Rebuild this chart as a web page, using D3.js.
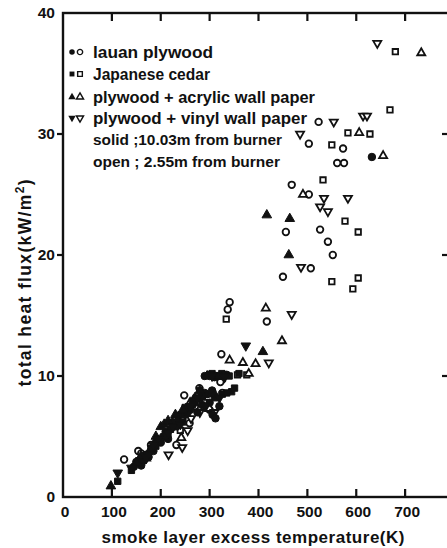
<!DOCTYPE html>
<html><head><meta charset="utf-8">
<script src="https://cdn.jsdelivr.net/npm/d3@7"></script>
<style>
html,body{margin:0;padding:0;background:#fff;}
svg{display:block;}
text{font-family:"Liberation Sans",Arial,sans-serif;font-weight:bold;fill:#111;}
</style></head>
<body>
<div id="chart"></div>
<script>
// ---- data: [excess temperature (K), total heat flux (kW/m2)] ----
const lauanSolid = [[632,28.1],[145,2.5],[165,3.0],[185,3.8],[190,4.5],[205,5.0],[220,5.6],[240,6.8],[265,7.6],[280,8.2],[295,8.5],[306,6.8],[312,6.5],[290,10.0],[315,10.0],[335,10.1],[300,7.8],[275,7.0],[228,6.0],[175,3.3],[150,2.9],[160,2.6],[170,3.5],[195,4.6],[210,5.4],[215,4.8],[235,6.3],[250,6.8],[260,7.2],[285,7.6],[290,8.6],[305,8.8],[320,7.5],[300,10.0],[310,9.9],[325,10.0]];
const lauanOpen = [[523,31.0],[503,29.2],[573,28.8],[561,27.6],[575,27.6],[468,25.8],[503,25.0],[526,22.1],[542,21.1],[552,20.0],[456,21.9],[507,18.9],[450,18.2],[341,16.1],[337,15.5],[417,14.5],[324,11.8],[326,9.7],[322,9.5],[279,9.0],[248,8.4],[326,8.6],[244,6.4],[259,6.1],[232,4.3],[154,3.8],[125,3.1],[200,4.5],[270,7.5],[285,8.0],[300,7.2],[160,3.6],[180,4.3]];
const cedarSolid = [[112,1.3],[155,3.0],[175,3.5],[190,4.2],[210,5.0],[230,5.8],[245,6.2],[270,7.8],[285,8.3],[326,8.5],[345,8.7],[351,9.0],[300,10.1],[325,10.2],[340,10.0],[360,10.2],[140,2.2],[255,7.0],[165,3.1],[180,4.0],[200,4.6],[220,5.6],[250,7.4],[265,7.9],[280,8.8],[310,8.2],[335,8.6],[305,10.2],[318,10.0]];
const cedarOpen = [[680,36.8],[669,32.0],[583,30.1],[628,30.0],[550,29.1],[532,26.2],[577,22.8],[604,21.9],[550,17.8],[604,18.1],[593,17.2],[334,14.7],[357,10.1],[376,10.1],[270,8.0],[290,7.8],[215,5.2],[240,5.5]];
const acrylicSolid = [[417,23.3],[464,23.0],[462,20.0],[409,12.0],[98,0.9],[200,5.8],[207,6.0],[224,6.2],[150,2.8],[180,4.0],[270,8.2],[295,10.0],[310,8.5],[190,5.0],[215,6.3],[230,6.8],[245,7.2],[280,8.8],[160,3.4]];
const acrylicOpen = [[733,36.7],[606,30.1],[655,28.2],[491,25.0],[415,15.6],[448,12.9],[341,11.3],[368,11.1],[394,11.0],[380,10.2],[242,4.9],[300,7.3],[170,3.2],[260,7.8]];
const vinylSolid = [[374,12.5],[112,2.0],[140,2.4],[170,3.2],[195,4.8],[215,5.3],[260,7.5],[305,10.0],[320,8.2],[185,4.3],[225,5.8],[240,6.0],[275,8.2],[290,7.5],[330,9.9]];
const vinylOpen = [[643,37.5],[614,31.5],[622,31.5],[554,31.0],[485,30.0],[534,24.7],[583,24.7],[526,24.0],[542,23.6],[487,19.0],[468,15.1],[421,11.1],[216,3.5],[244,4.1],[255,5.5],[262,6.5],[280,7.0],[310,7.0]];

const xTicks = [0,100,200,300,400,500,600,700];
const yTicks = [0,10,20,30,40];
const legendLabels = ["lauan  plywood","Japanese cedar","plywood + acrylic wall paper","plywood + vinyl  wall paper"];
const noteLabels = ["solid ;10.03m from burner","open ; 2.55m from burner"];
const xTitle = "smoke layer excess temperature(K)";

// ---- layout ----
const W = 447, H = 548;
const x = d3.scaleLinear().domain([0,800]).range([63,454]);
const y = d3.scaleLinear().domain([0,40]).range([497,13]);

const svg = d3.select("#chart").append("svg").attr("width",W).attr("height",H);
svg.append("rect").attr("width",W).attr("height",H).attr("fill","#fff");

const ink = "#111";

// frame
svg.append("rect").attr("x",x(0)).attr("y",y(40)).attr("width",x(800)-x(0)).attr("height",y(0)-y(40))
  .attr("fill","none").attr("stroke",ink).attr("stroke-width",2.4);

// ticks
const tk = svg.append("g").attr("stroke",ink).attr("stroke-width",2.2);
const inner = xTicks.slice(1);
tk.selectAll("line.b").data(inner).join("line").attr("class","b")
  .attr("x1",d=>x(d)).attr("x2",d=>x(d)).attr("y1",y(0)).attr("y2",y(0)-8);
tk.selectAll("line.t").data(inner).join("line").attr("class","t")
  .attr("x1",d=>x(d)).attr("x2",d=>x(d)).attr("y1",y(40)).attr("y2",y(40)+8);
const midY = yTicks.slice(1,-1);
tk.selectAll("line.l").data(midY).join("line").attr("class","l")
  .attr("x1",x(0)-6).attr("x2",x(0)).attr("y1",d=>y(d)).attr("y2",d=>y(d));
tk.selectAll("line.r").data(midY).join("line").attr("class","r")
  .attr("x1",x(800)-12).attr("x2",x(800)).attr("y1",d=>y(d)).attr("y2",d=>y(d));

// tick labels
svg.append("g").selectAll("text").data(xTicks).join("text")
  .attr("x",d=>x(d)+2).attr("y",y(0)+20).attr("text-anchor","middle")
  .attr("font-size",15.5).text(d=>d);
svg.append("g").selectAll("text").data(yTicks).join("text")
  .attr("x",x(0)-8).attr("y",d=>y(d)+5).attr("text-anchor","end")
  .attr("font-size",15.5).text(d=>d);

// titles
svg.append("text").attr("x",253).attr("y",543).attr("text-anchor","middle")
  .attr("font-size",17).attr("textLength",303).attr("lengthAdjust","spacing").text(xTitle);
const yt = svg.append("text").attr("transform","translate(31,283) rotate(-90)").attr("text-anchor","middle")
  .attr("font-size",17.5).attr("textLength",207).attr("lengthAdjust","spacing");
yt.append("tspan").text("total  heat  flux(kW/m");
yt.append("tspan").attr("font-size",12).attr("dy",-7).text("2");
yt.append("tspan").attr("dy",7).text(")");

// symbols
function sym(kind, solid){
  if(kind==="circle") return d3.symbol(d3.symbolCircle, solid?44:34)();
  if(kind==="square") return d3.symbol(d3.symbolSquare, solid?40:30)();
  return d3.symbol(d3.symbolTriangle, solid?40:28)();
}
const series = [
  {data:lauanSolid, kind:"circle", solid:true},
  {data:cedarSolid, kind:"square", solid:true},
  {data:acrylicSolid, kind:"up", solid:true},
  {data:vinylSolid, kind:"down", solid:true},
  {data:lauanOpen, kind:"circle", solid:false},
  {data:cedarOpen, kind:"square", solid:false},
  {data:acrylicOpen, kind:"up", solid:false},
  {data:vinylOpen, kind:"down", solid:false}
];
function drawPts(g, s){
  g.selectAll("path").data(s.data).join("path")
    .attr("d",sym(s.kind, s.solid))
    .attr("transform",d=>`translate(${x(d[0])},${y(d[1])})`+(s.kind==="down"?" rotate(180)":""))
    .attr("fill",s.solid?ink:"#fff").attr("stroke",ink).attr("stroke-width",s.solid?1:1.8);
}
// open first, solid on top
series.filter(s=>!s.solid).forEach(s=>drawPts(svg.append("g"),s));
series.filter(s=>s.solid).forEach(s=>drawPts(svg.append("g"),s));

// legend
const kinds = ["circle","square","up","down"];
const rowY = [52,74,97,118];
const lg = svg.append("g");
kinds.forEach((k,i)=>{
  const base = k==="circle"?d3.symbolCircle:k==="square"?d3.symbolSquare:d3.symbolTriangle;
  const rot = k==="down"?" rotate(180)":"";
  lg.append("path").attr("d",d3.symbol(base,24)()).attr("transform",`translate(72,${rowY[i]})`+rot).attr("fill",ink);
  lg.append("path").attr("d",d3.symbol(base,22)()).attr("transform",`translate(80,${rowY[i]})`+rot)
    .attr("fill","#fff").attr("stroke",ink).attr("stroke-width",1.4);
});
const legW = [120,117,222,214];
lg.selectAll("text.l").data(legendLabels).join("text").attr("class","l")
  .attr("x",93).attr("y",(d,i)=>rowY[i]+6).attr("font-size",16.5)
  .attr("textLength",(d,i)=>legW[i]).attr("lengthAdjust","spacingAndGlyphs").text(d=>d);
lg.selectAll("text.n").data(noteLabels).join("text").attr("class","n")
  .attr("x",93).attr("y",(d,i)=>[140,162][i]+5).attr("font-size",15)
  .attr("textLength",(d,i)=>[189,187][i]).attr("lengthAdjust","spacingAndGlyphs").text(d=>d);
</script>
</body></html>
